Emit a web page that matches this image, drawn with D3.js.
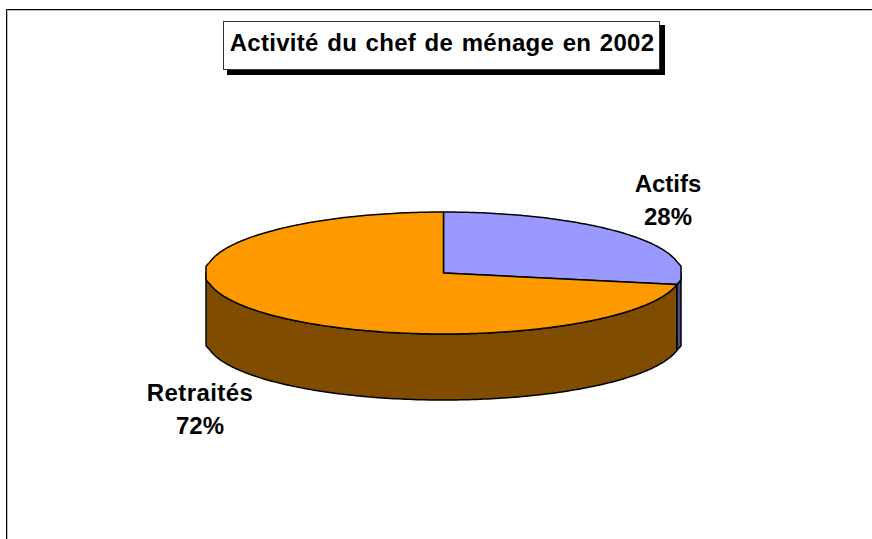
<!DOCTYPE html>
<html>
<head>
<meta charset="utf-8">
<script src="https://cdnjs.cloudflare.com/ajax/libs/d3/7.8.5/d3.min.js"></script>
<style>
  html, body { margin: 0; padding: 0; background: #fff; }
  svg { display: block; }
  text { font-family: "Liberation Sans", Arial, sans-serif; font-weight: bold; fill: #000; }
</style>
</head>
<body>
<script>
var categories = ["Actifs", "Retraités"]
var values = [28, 72]
var percentLabels = ["28%", "72%"]
var chartTitle = "Activité du chef de ménage en 2002"

var topColors = ["#9999ff", "#ff9900"]
var sideColors = ["#4d4d80", "#804d00"]

var width = 872
var height = 539
var cx = 443.5
var cy = 273
var rx = 237.5
var ry = 61
var depth = 66

var svg = d3.select("body").append("svg")
    .attr("width", width)
    .attr("height", height)

// chart frame, only top and left edges are in the picture
svg.append("path")
    .attr("d", "M7.5,539V10.5H872")
    .attr("fill", "none")
    .attr("stroke", "#bbb")
svg.append("path")
    .attr("d", "M6.5,539V9.5H872")
    .attr("fill", "none")
    .attr("stroke", "#000")

var slices = d3.pie().sort(null)(values)
var line = d3.line()

// point on the rim, angle clockwise from the top. The reference rim has flat
// vertical ends, so the ellipse bulges near them and is clamped to the pie width
function rim(angle, drop) {
    var c = Math.abs(Math.cos(angle))
    var stretch = 1 + 0.016 * Math.max(0, 1 - c / 0.18)
    var x = cx + rx * stretch * Math.sin(angle)
    x = Math.max(cx - rx, Math.min(cx + rx, x))
    return [x, cy - ry * Math.cos(angle) + drop]
}

function rimPoints(a0, a1, drop) {
    var n = Math.ceil(Math.abs(a1 - a0) * 60)
    return d3.range(n + 1).map(function(k) {
        return rim(a0 + (a1 - a0) * k / n, drop)
    })
}

// outer wall of a slice, only the part facing the viewer
function wallPath(d) {
    var a0 = Math.max(d.startAngle, Math.PI / 2)
    var a1 = Math.min(d.endAngle, Math.PI * 1.5)
    if (a0 >= a1) return null
    var pts = rimPoints(a0, a1, 0).concat(rimPoints(a1, a0, depth))
    return line(pts) + "Z"
}

function topPath(d) {
    return line([[cx, cy]].concat(rimPoints(d.startAngle, d.endAngle, 0))) + "Z"
}

svg.append("g").selectAll("path")
    .data(slices).enter().append("path")
    .attr("d", wallPath)
    .attr("fill", function(d, i) { return sideColors[i] })
    .attr("stroke", "#000")
    .attr("stroke-width", 1.5)
    .attr("stroke-linejoin", "round")

svg.append("g").selectAll("path")
    .data(slices).enter().append("path")
    .attr("d", topPath)
    .attr("fill", function(d, i) { return topColors[i] })
    .attr("stroke", "#000")
    .attr("stroke-width", 1.5)
    .attr("stroke-linejoin", "round")

// slice labels
var labelPos = [[668, 192], [200, 401]]
var labelSpacing = [0, 0.4]
categories.forEach(function(name, i) {
    var t = svg.append("text")
        .attr("text-anchor", "middle")
        .attr("font-size", 24)
        .attr("x", labelPos[i][0])
        .attr("y", labelPos[i][1])
    t.append("tspan")
        .attr("letter-spacing", labelSpacing[i])
        .text(name)
    t.append("tspan")
        .attr("x", labelPos[i][0])
        .attr("dy", 33)
        .text(percentLabels[i])
})

// title box with its hard shadow
svg.append("rect")
    .attr("x", 227).attr("y", 25)
    .attr("width", 438).attr("height", 50)
    .attr("fill", "#000")
svg.append("rect")
    .attr("x", 223.5).attr("y", 21.5)
    .attr("width", 436).attr("height", 48)
    .attr("fill", "#fff")
    .attr("stroke", "#333")
svg.append("text")
    .attr("x", 442)
    .attr("y", 51)
    .attr("text-anchor", "middle")
    .attr("font-size", 24)
    .attr("letter-spacing", 0.3)
    .attr("word-spacing", 1.5)
    .text(chartTitle)
</script>
</body>
</html>
